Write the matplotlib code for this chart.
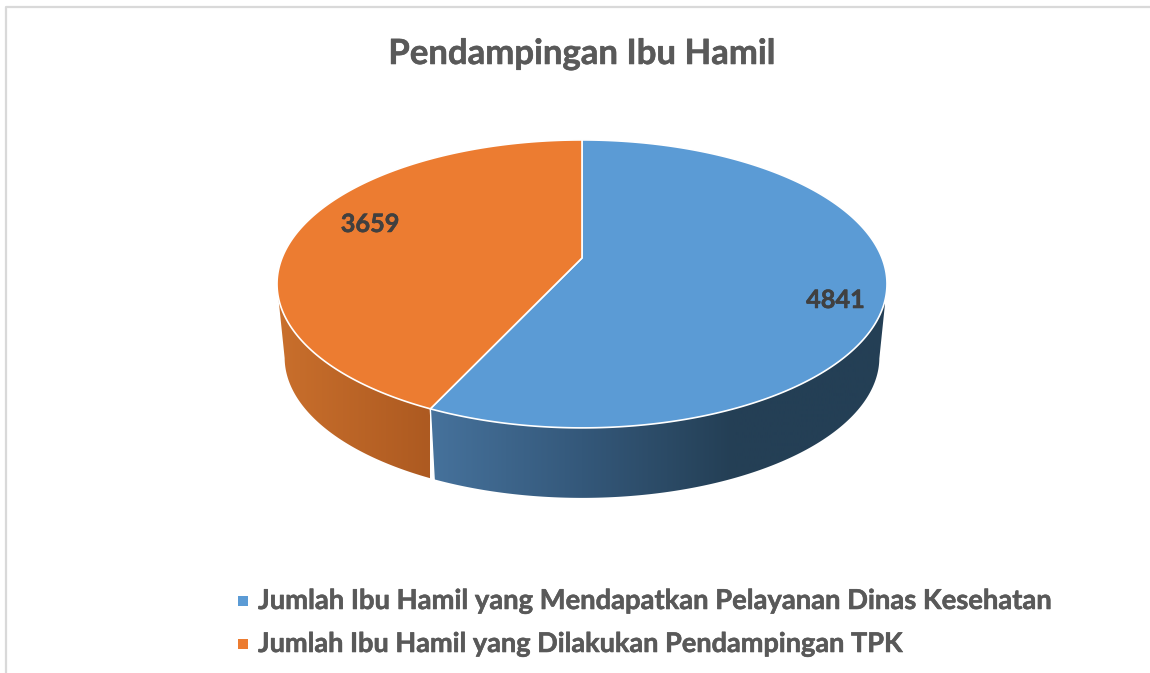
import numpy as np
import matplotlib.pyplot as plt
import matplotlib.patheffects as pe
from matplotlib.colors import LinearSegmentedColormap
from matplotlib.patches import Polygon

plt.rcParams['font.family'] = ['Lato', 'DejaVu Sans']

title = "Pendampingan Ibu Hamil"
categories = ["Jumlah Ibu Hamil yang Mendapatkan Pelayanan Dinas Kesehatan",
              "Jumlah Ibu Hamil yang Dilakukan Pendampingan TPK"]
values = [4841, 3659]
colors = ["#5b9bd5", "#ec7c31"]
side_colors = [["#46729c", "#34587a", "#243f55", "#243f55"],
               ["#c96f2c", "#ad5a21"]]
side_x = [(430, 885), (278, 430)]
label_pos = [(835.5, 308), (370, 232)]

# pie geometry in pixels, with a small perspective so the apex sits above the middle
cx, cy, R, A, C = 582, 258, 300, 139.3, 0.18
scale_low, drop = 0.975, 74.25

heavy = [pe.withStroke(linewidth=0.4, foreground="#595959")]
heavy_label = [pe.withStroke(linewidth=0.4, foreground="#404040")]


def project(t, s=1.0, dy=0.0):
    u, v = np.sin(t), np.cos(t)
    d = 1 + C * v
    return cx + s * R * u / d, cy - s * A * v / d + dy


def main():
    fig = plt.figure(figsize=(11.5, 6.73), dpi=100)
    ax = fig.add_axes([0, 0, 1, 1])

    # chart frame
    ax.plot([6, 6, 1150], [673, 7, 7], color="#d9d9d9", lw=1.6)

    fr = np.cumsum([0] + values) / sum(values) * 2 * np.pi

    # side walls first, gradient clipped to the visible part of each slice
    for i in range(len(values)):
        cmap = LinearSegmentedColormap.from_list("side", side_colors[i])
        t = np.linspace(fr[i], fr[i + 1], 400)
        t = t[np.cos(t) <= -C]
        x1, y1 = project(t)
        x2, y2 = project(t, scale_low, drop)
        wall = Polygon(np.c_[np.r_[x1, x2[::-1]], np.r_[y1, y2[::-1]]], closed=True,
                       transform=ax.transData, facecolor='none', edgecolor='none')
        ax.add_patch(wall)
        im = ax.imshow(np.linspace(0, 1, 256).reshape(1, -1), cmap=cmap, vmin=0, vmax=1, aspect='auto',
                       extent=(side_x[i][0], side_x[i][1], 673, 0), interpolation='bilinear')
        im.set_clip_path(wall)

    ax.set_xlim(0, 1150)
    ax.set_ylim(673, 0)
    ax.axis('off')

    # white seam on the wall between the slices
    x1, y1 = project(fr[1])
    x2, y2 = project(fr[1], scale_low, drop)
    ax.plot([x1, x2], [y1, y2], color="white", lw=1.0)

    # top faces
    for i in range(len(values)):
        t = np.linspace(fr[i], fr[i + 1], 400)
        x, y = project(t)
        ax.fill(np.r_[cx, x], np.r_[cy, y], facecolor=colors[i],
                edgecolor="white", lw=1.2, joinstyle='round')
        ax.text(label_pos[i][0], label_pos[i][1], str(values[i]), ha='center', va='baseline',
                fontsize=18.2, fontweight='bold', color="#404040", path_effects=heavy_label)

    ax.text(582, 64, title, ha='center', va='baseline', fontsize=25, fontweight='bold',
            color="#595959", path_effects=heavy)

    # legend
    for i, (name, y, y_base, fs) in enumerate(zip(categories, [601, 644], [609, 652], [19.7, 19.52])):
        ax.plot(243, y, 's', ms=7.9, color=colors[i], mew=0)
        ax.text(258, y_base, name, ha='left', va='baseline', fontsize=fs, fontweight='bold',
                color="#595959", path_effects=heavy)

    fig.savefig("out.png", dpi=100)


if __name__ == '__main__':
    main()
